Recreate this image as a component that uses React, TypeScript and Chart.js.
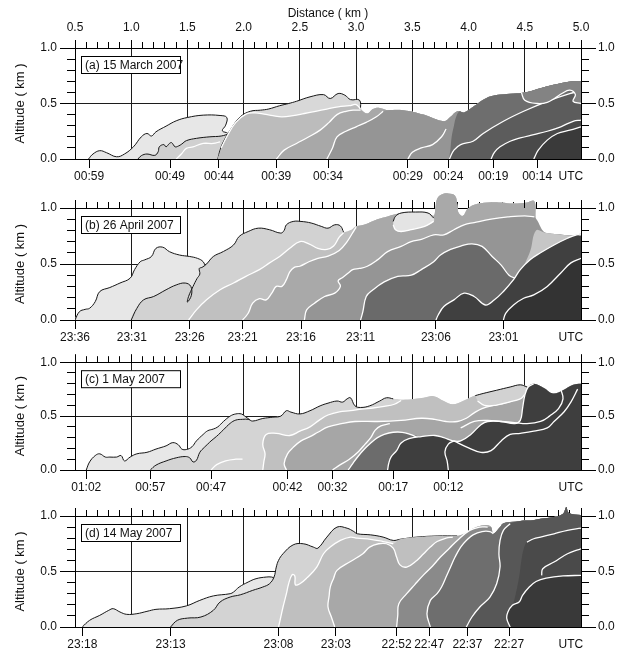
import React, { useEffect, useRef } from 'react';
import { Chart, registerables } from 'chart.js';
Chart.register(...registerables);

type P = [number, number];

// ---------------- axis data ----------------
const X_MIN = 0.5;
const X_MAX = 5.0;
const DIST_TICKS: number[] = Array.from({ length: 46 }, (_, i) => (i + 5) / 10);
const ALT_TICKS: number[] = Array.from({ length: 11 }, (_, i) => i / 10);
const ALT_MAJOR = [0, 0.5, 1.0];
const UTC_POS = 4.91;

const timeLabelsA = ['00:59', '00:49', '00:44', '00:39', '00:34', '00:29', '00:24', '00:19', '00:14'];
const timePosA = [0.625, 1.345, 1.78, 2.29, 2.75, 3.46, 3.82, 4.22, 4.61];
const timeLabelsB = ['23:36', '23:31', '23:26', '23:21', '23:16', '23:11', '23:06', '23:01'];
const timePosB = [0.5, 1.005, 1.52, 1.99, 2.51, 3.04, 3.71, 4.31];
const timeLabelsC = ['01:02', '00:57', '00:47', '00:42', '00:32', '00:17', '00:12'];
const timePosC = [0.6, 1.17, 1.71, 2.39, 2.79, 3.33, 3.82];
const timeLabelsD = ['23:18', '23:13', '23:08', '23:03', '22:52', '22:47', '22:37', '22:27'];
const timePosD = [0.565, 1.35, 2.31, 2.82, 3.36, 3.65, 3.99, 4.36];

// ---------------- panel (a) ----------------
const aS1: P[] = [[0.62,0],[0.66,0.045],[0.72,0.075],[0.78,0.057],[0.87,0.02],[0.94,0.045],[1.02,0.11],[1.09,0.2],[1.14,0.23],[1.18,0.207],[1.22,0.245],[1.31,0.296],[1.40,0.344],[1.50,0.374],[1.64,0.395],[1.79,0.392],[1.85,0.374],[1.84,0.305],[1.81,0.254],[1.86,0.23],[1.85,0.2]];
const aS2: P[] = [[1.06,0],[1.09,0.03],[1.14,0.045],[1.21,0.033],[1.24,0.066],[1.25,0.11],[1.29,0.13],[1.31,0.11],[1.34,0.14],[1.36,0.147],[1.39,0.11],[1.42,0.117],[1.45,0.135],[1.49,0.165],[1.58,0.186],[1.70,0.2],[1.80,0.207],[1.88,0.23]];
const aW2: P[] = [[1.40,0],[1.45,0.05],[1.49,0.096],[1.55,0.11],[1.64,0.14],[1.73,0.14],[1.79,0.155]];
const aEnv: P[] = [[1.77,0],[1.79,0.08],[1.82,0.155],[1.88,0.26],[1.97,0.38],[2.06,0.43],[2.15,0.44],[2.22,0.45],[2.32,0.48],[2.40,0.50],[2.47,0.52],[2.59,0.56],[2.71,0.58],[2.77,0.545],[2.84,0.59],[2.90,0.575],[2.95,0.535],[3.03,0.53],[3.04,0.44],[3.10,0.41],[3.15,0.45],[3.21,0.46],[3.28,0.44],[3.42,0.44],[3.60,0.40],[3.78,0.34],[3.84,0.38],[3.90,0.43],[3.96,0.42],[4.04,0.47],[4.16,0.55],[4.28,0.58],[4.40,0.59],[4.50,0.60],[4.58,0.62],[4.70,0.655],[4.81,0.68],[4.92,0.70],[5.0,0.70]];
const aW4: P[] = [[1.80,0.1],[1.86,0.22],[1.93,0.33],[2.02,0.405],[2.10,0.415],[2.18,0.405],[2.26,0.39],[2.34,0.38],[2.44,0.39],[2.54,0.41],[2.64,0.43],[2.74,0.45],[2.84,0.47],[2.94,0.48],[3.0,0.49],[3.04,0.45]];
const aW5: P[] = [[2.29,0],[2.36,0.08],[2.47,0.14],[2.58,0.2],[2.68,0.26],[2.76,0.33],[2.83,0.40],[2.91,0.43],[2.98,0.44],[3.04,0.44]];
const aW6: P[] = [[2.74,0],[2.79,0.1],[2.83,0.2],[2.91,0.25],[3.0,0.29],[3.09,0.33],[3.18,0.38],[3.24,0.43]];
const aW6b: P[] = [[3.46,0],[3.50,0.06],[3.58,0.1],[3.68,0.13],[3.76,0.2],[3.80,0.27]];
const aS7: P[] = [[3.83,0],[3.84,0.1],[3.85,0.2],[3.87,0.3],[3.89,0.38],[3.92,0.43]];
const aW8: P[] = [[3.83,0],[3.87,0.08],[3.93,0.13],[4.04,0.16],[4.13,0.23],[4.31,0.34],[4.49,0.43],[4.70,0.52],[4.90,0.59],[5.0,0.61]];
const aW9: P[] = [[4.20,0],[4.23,0.06],[4.28,0.11],[4.37,0.16],[4.46,0.19],[4.58,0.22],[4.70,0.25],[4.82,0.29],[4.93,0.34],[5.0,0.35]];
const aW10: P[] = [[4.58,0],[4.62,0.08],[4.70,0.17],[4.79,0.23],[4.90,0.26],[5.0,0.29]];
const aW11: P[] = [[4.47,0.6],[4.50,0.53],[4.61,0.5],[4.70,0.51],[4.77,0.55],[4.83,0.59],[4.90,0.62],[4.95,0.58],[4.93,0.52],[5.0,0.5]];

// ---------------- panel (b) ----------------
const bS1: P[] = [[0.5,0],[0.54,0.075],[0.59,0.095],[0.63,0.105],[0.68,0.164],[0.72,0.254],[0.81,0.29],[0.90,0.33],[0.99,0.373],[1.03,0.45],[1.08,0.52],[1.12,0.537],[1.18,0.567],[1.22,0.64],[1.28,0.65],[1.34,0.61],[1.43,0.58],[1.52,0.567],[1.59,0.55],[1.64,0.52],[1.66,0.47]];
const bS2: P[] = [[1.0,0],[1.05,0.104],[1.11,0.18],[1.2,0.21],[1.31,0.27],[1.40,0.313],[1.48,0.33],[1.53,0.3],[1.535,0.22],[1.50,0.16],[1.51,0.21],[1.55,0.3],[1.585,0.37],[1.61,0.41],[1.605,0.46],[1.63,0.47],[1.67,0.5],[1.73,0.567],[1.82,0.612],[1.91,0.67],[1.96,0.746],[2.04,0.79],[2.13,0.82],[2.23,0.806],[2.33,0.776],[2.36,0.8],[2.38,0.85],[2.44,0.88],[2.51,0.88],[2.60,0.866],[2.69,0.836],[2.75,0.82],[2.81,0.85],[2.86,0.84],[2.89,0.78]];
const bEnv: P[] = [[2.89,0.78],[2.96,0.806],[3.0,0.836],[3.07,0.85],[3.19,0.9],[3.28,0.925],[3.40,0.955],[3.53,0.964],[3.64,0.955],[3.69,0.93],[3.705,1.0],[3.72,1.08],[3.76,1.12],[3.82,1.13],[3.88,1.11],[3.90,1.03],[3.91,0.96],[3.95,0.93],[3.99,0.99],[4.05,1.03],[4.17,1.05],[4.29,1.05],[4.40,1.04],[4.52,1.05],[4.585,1.06],[4.595,0.92],[4.60,0.80],[4.68,0.78],[4.8,0.765],[4.9,0.755],[5.0,0.76]];
const bW3: P[] = [[1.51,0],[1.58,0.09],[1.67,0.18],[1.79,0.27],[1.91,0.33],[2.02,0.39],[2.14,0.45],[2.23,0.51],[2.32,0.567],[2.41,0.64],[2.5,0.70],[2.58,0.68],[2.66,0.64],[2.74,0.63],[2.80,0.66],[2.85,0.74],[2.89,0.78]];
const bW4: P[] = [[1.99,0],[2.04,0.06],[2.08,0.15],[2.14,0.19],[2.2,0.18],[2.25,0.24],[2.29,0.3],[2.34,0.3],[2.38,0.36],[2.41,0.43],[2.45,0.47],[2.5,0.48],[2.58,0.52],[2.66,0.55],[2.75,0.57],[2.85,0.62],[2.92,0.7],[2.97,0.78],[3.0,0.83]];
const bW5: P[] = [[2.54,0],[2.56,0.09],[2.63,0.15],[2.72,0.21],[2.81,0.24],[2.86,0.3],[2.84,0.35],[2.88,0.38],[2.93,0.42],[2.97,0.45],[3.03,0.46],[3.10,0.48],[3.19,0.537],[3.28,0.61],[3.40,0.657],[3.49,0.70],[3.58,0.72],[3.69,0.76],[3.78,0.76],[3.87,0.806],[3.96,0.85],[4.05,0.87],[4.2,0.9],[4.35,0.92],[4.5,0.93],[4.585,0.92]];
const bPTop: P[] = [[3.33,0.88],[3.35,0.925],[3.40,0.955],[3.53,0.964],[3.64,0.955],[3.69,0.91]];
const bPBot: P[] = [[3.69,0.88],[3.61,0.836],[3.49,0.806],[3.40,0.79],[3.35,0.806],[3.33,0.85]];
const bL2: P[] = [[4.50,0.50],[4.55,0.62],[4.60,0.80],[4.68,0.78],[4.8,0.765],[4.9,0.755],[5.05,0.76],[5.05,0.5]];
const bW6: P[] = [[3.04,0],[3.06,0.075],[3.09,0.21],[3.15,0.27],[3.25,0.34],[3.37,0.39],[3.49,0.40],[3.58,0.45],[3.69,0.52],[3.75,0.58],[3.84,0.63],[3.93,0.66],[4.03,0.68],[4.12,0.657],[4.21,0.567],[4.29,0.49],[4.36,0.40],[4.42,0.37]];
const bW7: P[] = [[3.71,0],[3.73,0.045],[3.78,0.12],[3.87,0.18],[3.96,0.24],[4.05,0.21],[4.15,0.134],[4.23,0.18],[4.31,0.255],[4.40,0.36],[4.46,0.45],[4.55,0.54],[4.64,0.6],[4.76,0.67],[4.88,0.73],[4.96,0.76],[5.0,0.76]];
const bW8: P[] = [[4.31,0],[4.33,0.06],[4.40,0.134],[4.49,0.194],[4.58,0.224],[4.70,0.3],[4.82,0.42],[4.91,0.51],[5.0,0.55]];

// ---------------- panel (c) ----------------
const cS1: P[] = [[0.6,0],[0.63,0.075],[0.68,0.134],[0.72,0.15],[0.77,0.12],[0.81,0.12],[0.87,0.12],[0.91,0.134],[0.94,0.084],[0.99,0.12],[1.05,0.15],[1.14,0.164],[1.22,0.194],[1.31,0.224],[1.37,0.254],[1.42,0.233],[1.45,0.194],[1.49,0.19],[1.54,0.215],[1.58,0.27],[1.64,0.33],[1.68,0.364],[1.73,0.38],[1.77,0.40],[1.82,0.45],[1.88,0.5],[1.93,0.52],[1.98,0.52],[2.01,0.5],[2.06,0.46]];
const cS2: P[] = [[1.17,0],[1.22,0.045],[1.31,0.084],[1.40,0.113],[1.48,0.125],[1.52,0.113],[1.55,0.075],[1.58,0.09],[1.61,0.164],[1.65,0.21],[1.68,0.24],[1.71,0.27],[1.76,0.313],[1.82,0.373],[1.88,0.433],[1.93,0.463],[1.99,0.47],[2.04,0.47],[2.08,0.454]];
const cEnv: P[] = [[2.08,0.454],[2.17,0.478],[2.26,0.49],[2.33,0.50],[2.38,0.55],[2.42,0.537],[2.50,0.52],[2.59,0.55],[2.68,0.595],[2.75,0.62],[2.83,0.64],[2.88,0.63],[2.92,0.66],[2.95,0.67],[2.99,0.595],[3.04,0.58],[3.12,0.595],[3.21,0.64],[3.27,0.67],[3.33,0.66],[3.40,0.655],[3.48,0.655],[3.60,0.67],[3.69,0.685],[3.78,0.64],[3.86,0.61],[3.95,0.64],[4.04,0.685],[4.13,0.71],[4.25,0.74],[4.37,0.77],[4.46,0.79],[4.52,0.77],[4.58,0.80],[4.67,0.76],[4.75,0.71],[4.84,0.74],[4.93,0.79],[5.0,0.80]];
const cWh: P[] = [[1.71,0],[1.76,0.05],[1.84,0.085],[1.93,0.1],[1.99,0.1]];
const cW3: P[] = [[2.17,0],[2.18,0.08],[2.19,0.15],[2.17,0.24],[2.20,0.33],[2.29,0.34],[2.41,0.32],[2.50,0.36],[2.59,0.40],[2.67,0.46],[2.75,0.51],[2.85,0.54],[2.95,0.55],[3.05,0.565],[3.15,0.575],[3.25,0.59],[3.34,0.61],[3.40,0.645]];
const cW4: P[] = [[2.38,0],[2.36,0.06],[2.39,0.15],[2.44,0.21],[2.51,0.27],[2.59,0.31],[2.66,0.35],[2.75,0.40],[2.87,0.43],[2.99,0.45],[3.19,0.45],[3.40,0.46],[3.58,0.48],[3.70,0.47],[3.80,0.45],[3.90,0.45],[3.98,0.48],[4.05,0.53],[4.12,0.57],[4.22,0.60],[4.32,0.62],[4.42,0.66],[4.48,0.72],[4.52,0.77]];
const cPTop: P[] = [[4.06,0.69],[4.13,0.71],[4.25,0.74],[4.37,0.77],[4.46,0.79],[4.52,0.77]];
const cPBot: P[] = [[4.50,0.70],[4.46,0.66],[4.36,0.63],[4.24,0.60],[4.14,0.6],[4.08,0.64]];
const cW5b: P[] = [[2.79,0],[2.86,0.05],[2.94,0.1],[3.02,0.17],[3.08,0.24],[3.13,0.3],[3.17,0.37],[3.22,0.41],[3.30,0.43]];
const cW5: P[] = [[2.93,0],[2.97,0.06],[3.02,0.13],[3.07,0.19],[3.13,0.25],[3.19,0.3],[3.25,0.33],[3.33,0.35],[3.41,0.35],[3.48,0.33],[3.55,0.30]];
const cW6: P[] = [[3.28,0],[3.29,0.06],[3.31,0.12],[3.36,0.18],[3.40,0.25],[3.47,0.29],[3.58,0.31],[3.70,0.32],[3.78,0.30],[3.86,0.27],[3.93,0.27],[4.02,0.33],[4.11,0.42],[4.17,0.45],[4.29,0.45],[4.41,0.43],[4.46,0.46],[4.48,0.57],[4.50,0.69],[4.53,0.77],[4.58,0.80]];
const cW12: P[] = [[3.82,0],[3.81,0.08],[3.79,0.17],[3.82,0.24],[3.87,0.27]];
const cWlow: P[] = [[3.87,0.27],[3.99,0.21],[4.11,0.164],[4.2,0.18],[4.29,0.27],[4.37,0.33],[4.46,0.34],[4.58,0.36],[4.70,0.39],[4.76,0.45],[4.85,0.54],[4.91,0.63],[4.97,0.75]];
const cWup: P[] = [[3.93,0.39],[4.05,0.45],[4.17,0.46],[4.29,0.45],[4.41,0.44],[4.52,0.43],[4.64,0.45],[4.72,0.5],[4.80,0.57],[4.84,0.66],[4.82,0.75]];

// ---------------- panel (d) ----------------
const dS1: P[] = [[0.565,0],[0.63,0.06],[0.72,0.105],[0.80,0.15],[0.84,0.165],[0.90,0.135],[0.96,0.114],[1.05,0.12],[1.14,0.141],[1.22,0.159],[1.34,0.165],[1.49,0.19],[1.61,0.24],[1.73,0.28],[1.88,0.30],[1.91,0.315],[1.96,0.36],[2.04,0.405],[2.11,0.435],[2.20,0.45],[2.25,0.45],[2.27,0.44]];
const dS2: P[] = [[1.35,0],[1.41,0.06],[1.50,0.08],[1.62,0.09],[1.73,0.15],[1.79,0.225],[1.88,0.27],[1.97,0.29],[2.08,0.33],[2.17,0.36],[2.23,0.39],[2.27,0.45],[2.29,0.54]];
const dEnv: P[] = [[2.29,0.54],[2.31,0.6],[2.35,0.66],[2.44,0.74],[2.53,0.75],[2.62,0.72],[2.66,0.71],[2.74,0.81],[2.83,0.90],[2.92,0.89],[2.98,0.86],[3.01,0.84],[3.13,0.83],[3.24,0.81],[3.33,0.78],[3.39,0.79],[3.54,0.81],[3.72,0.82],[3.90,0.82],[3.96,0.84],[4.07,0.90],[4.16,0.92],[4.20,0.90],[4.22,0.84],[4.28,0.90],[4.31,0.935],[4.43,0.95],[4.49,0.96],[4.55,0.96],[4.64,0.976],[4.76,0.99],[4.84,1.02],[4.87,1.08],[4.89,1.03],[5.0,1.01]];
const dW3: P[] = [[2.31,0],[2.33,0.09],[2.35,0.18],[2.38,0.3],[2.40,0.39],[2.43,0.47],[2.455,0.46],[2.46,0.38],[2.50,0.39],[2.56,0.44],[2.65,0.54],[2.71,0.66],[2.77,0.72],[2.86,0.78],[2.95,0.81],[3.01,0.80],[3.13,0.79],[3.24,0.77],[3.33,0.75]];
const dW4: P[] = [[2.81,0],[2.78,0.09],[2.75,0.18],[2.76,0.28],[2.77,0.36],[2.80,0.44],[2.83,0.51],[2.95,0.59],[3.06,0.66],[3.12,0.72],[3.20,0.75],[3.27,0.75],[3.33,0.71],[3.36,0.63],[3.39,0.56],[3.45,0.54],[3.54,0.60],[3.60,0.66],[3.66,0.72],[3.72,0.77],[3.80,0.80],[3.86,0.81]];
const dW5: P[] = [[3.36,0],[3.37,0.1],[3.38,0.21],[3.45,0.30],[3.52,0.38],[3.60,0.47],[3.68,0.55],[3.75,0.63],[3.83,0.71],[3.90,0.78],[4.01,0.87],[4.10,0.90],[4.17,0.90]];
const dW6: P[] = [[3.66,0],[3.63,0.12],[3.66,0.24],[3.72,0.30],[3.76,0.36],[3.80,0.45],[3.84,0.54],[3.88,0.63],[3.93,0.72],[3.98,0.78],[4.04,0.83],[4.12,0.86],[4.19,0.86],[4.22,0.84]];
const dW7: P[] = [[3.98,0],[4.03,0.09],[4.10,0.18],[4.19,0.27],[4.25,0.39],[4.28,0.54],[4.27,0.66],[4.28,0.78],[4.31,0.87],[4.37,0.93]];
const dS8: P[] = [[4.37,0],[4.34,0.075],[4.35,0.135],[4.39,0.195],[4.42,0.3],[4.45,0.45],[4.47,0.6],[4.49,0.7],[4.52,0.765],[4.58,0.795],[4.64,0.81],[4.76,0.84],[4.88,0.87],[5.0,0.89]];
const dW9: P[] = [[4.65,0.465],[4.66,0.525],[4.76,0.585],[4.88,0.66],[5.0,0.705]];
const dW10: P[] = [[4.37,0],[4.34,0.075],[4.35,0.135],[4.39,0.195],[4.45,0.225],[4.48,0.285],[4.54,0.36],[4.60,0.41],[4.69,0.44],[4.84,0.46],[5.0,0.465]];

// ---------------- helpers ----------------
const FONT = "'Liberation Sans', Arial, sans-serif";
const WHITE = '#ffffff';
const BLACK = '#161616';

function ground(pts: P[]): P[] {
  const f = pts[0];
  const l = pts[pts.length - 1];
  const out: P[] = [[f[0], -0.4], ...pts];
  if (l[0] >= 4.99) out.push([5.4, l[1]], [5.4, -0.4]);
  else out.push([l[0], -0.4]);
  return out;
}
function join(b: P[], env: P[]): P[] {
  const lx = b[b.length - 1][0];
  return [...b, ...env.filter((p) => p[0] > lx + 0.015)];
}
function island(lower: P[], env: P[]): P[] {
  const x0 = lower[0][0];
  const l = lower[lower.length - 1];
  const top = env.filter((p) => p[0] > x0 && p[0] <= 5.0).reverse();
  return [...lower, [5.4, l[1]], [5.4, top[0][1]], ...top];
}

type Item = { pts: P[]; color: string; shape: boolean; width?: number };
const S = (pts: P[], color: string): Item => ({ pts, color, shape: true });
const L = (pts: P[], color: string, width = color === WHITE ? 1.3 : 1): Item => ({ pts, color, shape: false, width });

const itemsA: Item[] = [
  S(ground(aS1), '#e7e7e7'), L(aS1, BLACK),
  S(ground(aS2), '#d0d0d0'), L(aS2, BLACK), L(aW2, WHITE),
  S(ground(aEnv), '#d8d8d8'), L(aEnv.slice(0, 19), BLACK),
  S(ground(join([[1.77, 0], [1.79, 0.06], ...aW4], aEnv)), '#bcbcbc'), L(aW4, WHITE),
  S(ground(join(aW5, aEnv)), '#a8a8a8'), L(aW5, WHITE),
  S(ground(join(aW6, aEnv)), '#959595'), L(aW6, WHITE), L(aW6b, WHITE),
  S(ground(join(aS7, aEnv)), '#6e6e6e'),
  S(ground(aW8), '#5c5c5c'), L(aW8, WHITE),
  S(ground(aW9), '#494949'), L(aW9, WHITE),
  S(ground(aW10), '#3a3a3a'), L(aW10, WHITE),
  S(island(aW11, aEnv), '#838383'), L(aW11, WHITE),
];

const itemsB: Item[] = [
  S(ground(bS1), '#e7e7e7'), L(bS1, BLACK),
  S(ground(join(bS2, bEnv)), '#d2d2d2'), L(bS2, BLACK),
  S(ground(join(bW3, bEnv)), '#c0c0c0'), L(bW3, WHITE),
  S(ground(join(bW4, bEnv)), '#a9a9a9'), L(bW4, WHITE),
  S(ground(join(bW5, bEnv)), '#959595'), L(bW5, WHITE),
  S([...bPTop, ...bPBot], '#e4e4e4'), L(bPTop, BLACK), L(bPBot, WHITE),
  S(bL2, '#c6c6c6'),
  S(ground(bW6), '#6a6a6a'), L(bW6, WHITE),
  S(ground(bW7), '#404040'), L(bW7, WHITE),
  S(ground(bW8), '#333333'), L(bW8, WHITE),
];

const itemsC: Item[] = [
  S(ground(cS1), '#e7e7e7'), L(cS1, BLACK),
  S(ground(join(cS2, cEnv)), '#d4d4d4'), L([...cS2, ...cEnv.slice(1, 20)], BLACK), L(cWh, WHITE),
  S(ground(join(cW3, cEnv)), '#c0c0c0'), L(cW3, WHITE),
  S(ground(join(cW4, cEnv)), '#a6a6a6'), L(cW4, WHITE),
  S([...cPTop, ...cPBot], '#d2d2d2'), L(cPTop, BLACK), L(cPBot, WHITE),
  L(cW5b, WHITE),
  S(ground(cW5), '#6c6c6c'), L(cW5, WHITE),
  S(ground(join(cW6, cEnv)), '#3e3e3e'), L(cW6, WHITE),
  L(cW12, WHITE), L(cWlow, WHITE), L(cWup, WHITE),
];

const itemsD: Item[] = [
  S(ground(dS1), '#e7e7e7'), L(dS1, BLACK),
  S(ground(join(dS2, dEnv)), '#d3d3d3'), L([...dS2, ...dEnv.slice(1, 19)], BLACK),
  S(ground(join(dW3, dEnv)), '#bfbfbf'), L(dW3, WHITE),
  S(ground(join(dW4, dEnv)), '#a8a8a8'), L(dW4, WHITE),
  S(ground(join(dW5, dEnv)), '#8a8a8a'), L(dW5, WHITE),
  S(ground(join(dW6, dEnv)), '#6e6e6e'), L(dW6, WHITE),
  S(ground(join(dW7, dEnv)), '#575757'), L(dW7, WHITE),
  S(ground(dS8), '#4a4a4a'), L(dS8.slice(8), WHITE),
  L(dW9, WHITE),
  S(ground(dW10), '#393939'), L(dW10, WHITE),
];

type PanelCfg = {
  label: string; top: number; h: number; topH: number; botH: number;
  showTop: boolean; times: string[]; timePos: number[]; items: Item[];
};

const panels: PanelCfg[] = [
  { label: '(a) 15 March 2007', top: 0, h: 185, topH: 48, botH: 26, showTop: true, times: timeLabelsA, timePos: timePosA, items: itemsA },
  { label: '(b) 26 April 2007', top: 185, h: 160, topH: 23, botH: 25, showTop: false, times: timeLabelsB, timePos: timePosB, items: itemsB },
  { label: '(c) 1 May 2007', top: 345, h: 150, topH: 13, botH: 25, showTop: false, times: timeLabelsC, timePos: timePosC, items: itemsC },
  { label: '(d) 14 May 2007', top: 495, h: 158, topH: 21, botH: 26, showTop: false, times: timeLabelsD, timePos: timePosD, items: itemsD },
];

const isMajor = (v: number) => Math.abs(v * 2 - Math.round(v * 2)) < 1e-6;
const align = (p: number) => Math.round(p - 0.5) + 0.5;

const overflowPlugin = {
  id: 'overflow',
  beforeDatasetsDraw(chart: any) {
    const a = chart.chartArea;
    chart.$origArea = a;
    chart.chartArea = { ...a, top: a.top - 30, height: a.height + 30 };
  },
  afterDatasetsDraw(chart: any) {
    if (chart.$origArea) chart.chartArea = chart.$origArea;
  },
};

const decorPlugin = {
  id: 'decor',
  afterDraw(chart: any, _args: any, opts: any) {
    const ctx = chart.ctx as CanvasRenderingContext2D;
    const { left, right, top } = chart.chartArea;
    const y = chart.scales.y;
    const xt = chart.scales.xTop;
    ctx.save();
    ctx.strokeStyle = '#000';
    ctx.lineWidth = 1;
    ctx.beginPath();
    for (const v of ALT_MAJOR) {
      const py = align(y.getPixelForValue(v));
      ctx.moveTo(left - 15, py); ctx.lineTo(left, py);
      ctx.moveTo(right, py); ctx.lineTo(right + 15, py);
    }
    for (const v of DIST_TICKS) {
      if (!isMajor(v)) continue;
      const px = align(xt.getPixelForValue(v));
      ctx.moveTo(px, top - 8); ctx.lineTo(px, top);
    }
    ctx.stroke();
    const bx = left + 6.5, by = top + 8.5;
    ctx.fillStyle = '#fff';
    ctx.fillRect(bx, by, 99, 17);
    ctx.strokeRect(bx, by, 99, 17);
    ctx.fillStyle = '#111';
    ctx.font = `12px ${FONT}`;
    ctx.textBaseline = 'middle';
    ctx.textAlign = 'left';
    ctx.fillText(opts.label, bx + 3.5, by + 9);
    ctx.restore();
  },
};

function Panel({ cfg }: { cfg: PanelCfg }) {
  const ref = useRef<HTMLCanvasElement | null>(null);
  useEffect(() => {
    if (!ref.current) return;
    const n = cfg.items.length;
    const datasets = cfg.items.map((it, i) => ({
      data: it.pts.map(([x, yv]) => ({ x, y: yv })),
      showLine: true,
      tension: 0.4,
      fill: it.shape ? 'shape' : false,
      backgroundColor: it.shape ? it.color : 'rgba(0,0,0,0)',
      borderColor: it.shape ? 'rgba(0,0,0,0)' : it.color,
      borderWidth: it.shape ? 0.5 : it.width,
      pointRadius: 0,
      pointHoverRadius: 0,
      capBezierPoints: false,
      clip: 0,
      order: n - i,
    }));
    const labels = [...cfg.times, 'UTC'];
    const pos = [...cfg.timePos, UTC_POS];
    const tickFont = { family: FONT, size: 12 };
    const chart = new Chart(ref.current, {
      type: 'scatter',
      data: { datasets } as any,
      options: {
        responsive: false,
        animation: false,
        devicePixelRatio: 1,
        events: [],
        layout: { padding: 0 },
        plugins: { legend: { display: false }, tooltip: { enabled: false }, decor: { label: cfg.label } } as any,
        scales: {
          x: {
            type: 'linear', position: 'bottom', min: X_MIN, max: X_MAX, z: 1,
            afterBuildTicks: (s: any) => { s.ticks = pos.map((v) => ({ value: v })); },
            afterFit: (s: any) => { s.height = cfg.botH; },
            ticks: { autoSkip: false, maxRotation: 0, minRotation: 0, padding: 1, color: '#111', font: tickFont,
              callback: (_v: any, i: number) => labels[i] },
            grid: { drawOnChartArea: false, tickLength: 9, color: '#000',
              tickColor: (c: any) => (c.index === labels.length - 1 ? 'rgba(0,0,0,0)' : '#000') },
            border: { display: true, color: '#000', width: 1 },
          },
          xTop: {
            type: 'linear', position: 'top', min: X_MIN, max: X_MAX, z: 1,
            afterBuildTicks: (s: any) => { s.ticks = DIST_TICKS.map((v) => ({ value: v })); },
            afterFit: (s: any) => { s.height = cfg.topH; },
            ticks: { display: cfg.showTop, autoSkip: false, maxRotation: 0, minRotation: 0, padding: 7, color: '#111', font: tickFont,
              callback: (v: any) => (isMajor(v) ? Number(v).toFixed(1) : '') },
            grid: { drawOnChartArea: true, tickLength: 6, tickColor: '#000', lineWidth: 1,
              color: (c: any) => (c.tick && isMajor(c.tick.value) ? '#1c1c1c' : 'rgba(0,0,0,0)') },
            border: { display: true, color: '#000', width: 1 },
            title: { display: cfg.showTop, text: 'Distance ( km )', color: '#111', font: tickFont, padding: { top: 6, bottom: 0 } },
          },
          y: {
            type: 'linear', position: 'left', min: 0, max: 1, z: 1,
            afterBuildTicks: (s: any) => { s.ticks = ALT_TICKS.map((v) => ({ value: v })); },
            afterFit: (s: any) => { s.width = 75; },
            ticks: { autoSkip: false, padding: 10, color: '#111', font: tickFont,
              callback: (v: any) => (isMajor(v) ? Number(v).toFixed(1) : '') },
            grid: { drawOnChartArea: true, tickLength: 8, tickColor: '#000',
              color: (c: any) => (c.tick && Math.abs(c.tick.value - 0.5) < 1e-6 ? '#1c1c1c' : 'rgba(0,0,0,0)') },
            border: { display: true, color: '#000', width: 1 },
            title: { display: true, text: 'Altitude ( km )', color: '#111', font: { family: FONT, size: 13 }, padding: { top: 13, bottom: 0 } },
          },
          y2: {
            type: 'linear', position: 'right', min: 0, max: 1, z: 1,
            afterBuildTicks: (s: any) => { s.ticks = ALT_TICKS.map((v) => ({ value: v })); },
            afterFit: (s: any) => { s.width = 45; },
            ticks: { autoSkip: false, padding: 9, color: '#111', font: tickFont,
              callback: (v: any) => (isMajor(v) ? Number(v).toFixed(1) : '') },
            grid: { drawOnChartArea: false, tickLength: 8, tickColor: '#000', color: '#000' },
            border: { display: true, color: '#000', width: 1 },
          },
        },
      } as any,
      plugins: [overflowPlugin, decorPlugin],
    });
    return () => chart.destroy();
  }, [cfg]);
  return (
    <canvas
      ref={ref}
      width={626}
      height={cfg.h}
      style={{ position: 'absolute', left: 0, top: cfg.top, width: 626, height: cfg.h }}
    />
  );
}

export default function App() {
  return (
    <div style={{ position: 'absolute', left: 0, top: 0, width: 626, height: 653, background: '#fff' }}>
      {panels.map((p) => (
        <Panel key={p.label} cfg={p} />
      ))}
    </div>
  );
}
